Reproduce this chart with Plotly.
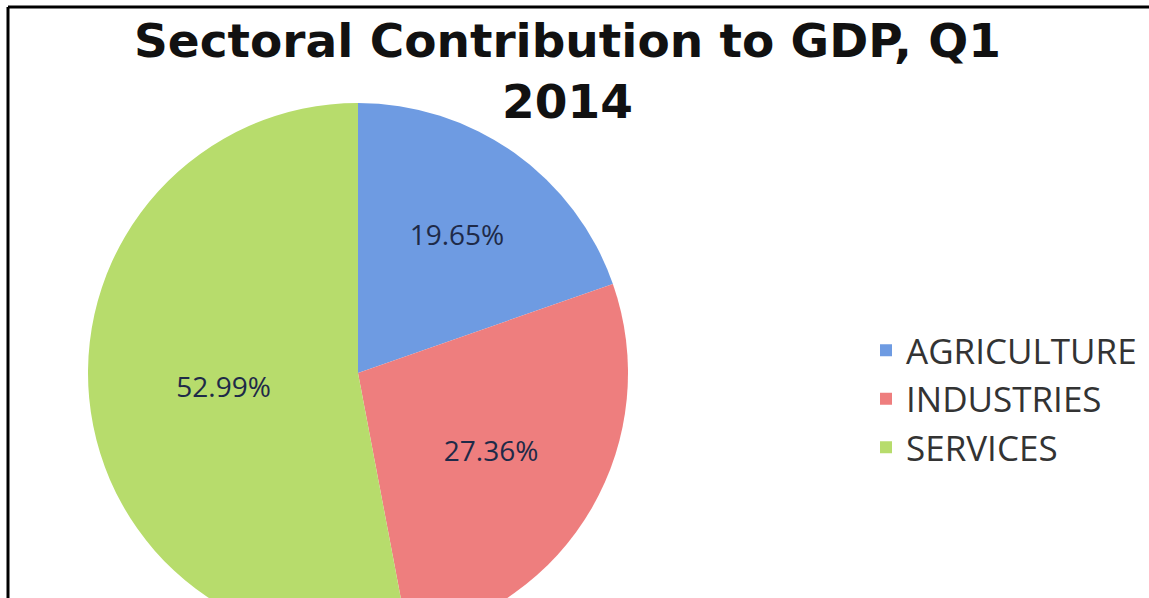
import plotly.graph_objects as go

sectors = ["AGRICULTURE", "INDUSTRIES", "SERVICES"]
shares = [19.65, 27.36, 52.99]
colors = ["#6E9BE2", "#EE7E7E", "#B7DC6C"]
title_lines = ["Sectoral Contribution to GDP, Q1", "2014"]

W, H = 1149, 700

fig = go.Figure(go.Pie(
    labels=sectors,
    values=shares,
    sort=False,
    direction="clockwise",
    rotation=0,
    marker=dict(colors=colors, line=dict(width=0)),
    texttemplate="%{value:.2f}%",
    textposition="inside",
    insidetextorientation="horizontal",
    textfont=dict(family="Open Sans", size=28, color="#1E2A48"),
    domain=dict(x=[88 / W, 628 / W], y=[1 - 643 / H, 1 - 103 / H]),
    showlegend=True,
))

fig.update_layout(
    width=W, height=H,
    margin=dict(l=0, r=0, t=0, b=0),
    paper_bgcolor="white",
    annotations=[dict(
        text="<b>" + "<br>".join(title_lines) + "</b>",
        font=dict(family="DejaVu Sans", size=47, color="#111111"),
        x=567 / W, xanchor="center",
        y=1 - 11 / H, yanchor="top",
        xref="paper", yref="paper",
        showarrow=False, align="center",
    )],
    legend=dict(
        x=866 / W, xanchor="left",
        y=1 - 399 / H, yanchor="middle",
        font=dict(family="Open Sans", size=35, color="#333333"),
        bgcolor="rgba(0,0,0,0)",
    ),
    shapes=[
        dict(type="line", xref="paper", yref="paper",
             x0=8 / W, x1=1, y0=1 - 7 / H, y1=1 - 7 / H,
             line=dict(color="black", width=3)),
        dict(type="line", xref="paper", yref="paper",
             x0=8 / W, x1=8 / W, y0=0, y1=1 - 7 / H,
             line=dict(color="black", width=3)),
    ],
)

fig.write_html(
    "out.html",
    post_script="document.documentElement.style.overflow='hidden';document.body.style.overflow='hidden';",
)
